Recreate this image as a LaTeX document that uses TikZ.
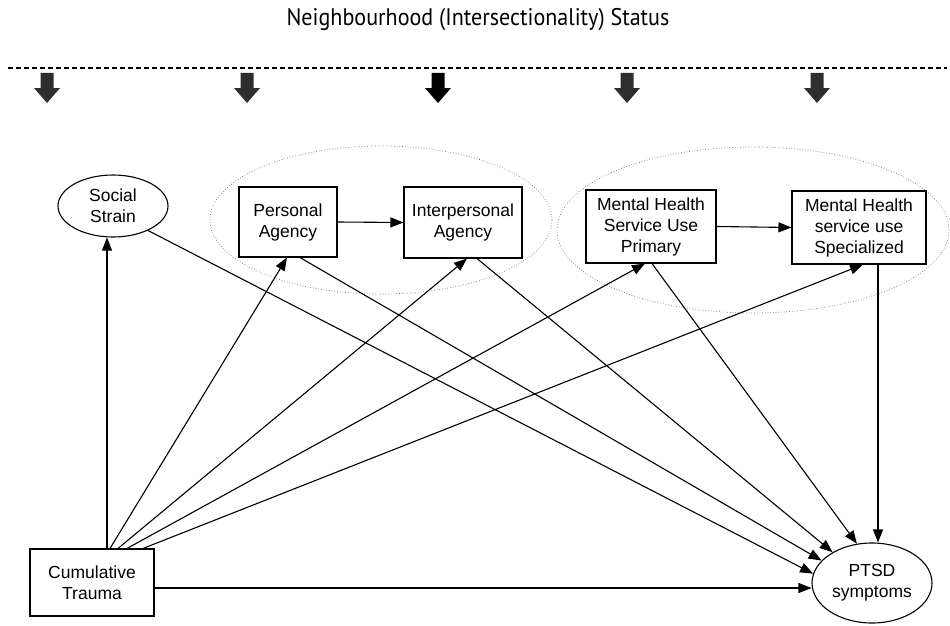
\documentclass[tikz,border=0pt]{standalone}
\usepackage{fontspec}
\setmainfont{Liberation Sans}
\newfontfamily\titlefont[FakeStretch=0.92]{PT Sans}
\usetikzlibrary{shapes.geometric,arrows.meta}

\tikzset{
  box/.style={draw, line width=1.1pt, align=center, inner sep=0pt,
    font=\fontsize{17.5}{21}\selectfont},
  oval/.style={draw, ellipse, line width=1.1pt, align=center, inner sep=0pt,
    font=\fontsize{17.5}{21}\selectfont},
  group/.style={draw=black!55, ellipse, dotted, line width=0.7pt, inner sep=0pt},
  arr/.style={line width=1.1pt, -{Triangle[length=13pt,width=10pt]}},
  level/.style={line width=1.6pt, dash pattern=on 5pt off 3pt}
}

\begin{document}
\begin{tikzpicture}[x=1pt,y=-1pt]
  \useasboundingbox (0,0) rectangle (950,626);

  % heading and the dashed level line with its down arrows
  \node[font=\titlefont\fontsize{24}{27}\selectfont] (title) at (478,20)
    {Neighbourhood (Intersectionality) Status};
  \coordinate (lineL) at (8,68);
  \coordinate (lineR) at (947,68);
  \draw[level] (lineL) -- (lineR);
  \foreach \ax/\shade in {47/82, 247/82, 438/100, 627/82, 817/82}{
    \fill[black!\shade] (\ax-6.5,73) -- (\ax+6.5,73) -- (\ax+6.5,88) -- (\ax+13,88)
      -- (\ax,103) -- (\ax-13,88) -- (\ax-6.5,88) -- cycle;
  }

  % grouping ellipses
  \node[group, minimum width=342, minimum height=148] (g1) at (381,220) {};
  \node[group, minimum width=392, minimum height=166] (g2) at (753,230) {};

  % variables
  \node[oval, minimum width=110, minimum height=62] (ss) at (113,206) {Social\\Strain};
  \node[box, minimum width=98, minimum height=70] (pa) at (288,222) {Personal\\Agency};
  \node[box, minimum width=118, minimum height=71] (ia) at (463,222.5) {Interpersonal\\Agency};
  \node[box, minimum width=130, minimum height=73] (mhp) at (651,226.5)
    {Mental Health\\Service Use\\Primary};
  \node[box, minimum width=134, minimum height=73] (mhs) at (859,227.5)
    {Mental Health\\service use\\Specialized};
  \node[box, minimum width=124, minimum height=67] (ct) at (92,582.5) {Cumulative\\Trauma};
  \node[oval, minimum width=120, minimum height=80] (ptsd) at (872,583) {PTSD\\symptoms};

  % paths out of cumulative trauma
  \draw[arr] ([xshift=15pt]ct.north) -- ([xshift=15pt]ct.north |- ss.south);
  \draw[arr] ([xshift=18pt]ct.north) -- ([xshift=-1pt]pa.south);
  \draw[arr] ([xshift=26pt]ct.north) -- ([xshift=4pt]ia.south);
  \draw[arr] ([xshift=35pt]ct.north) -- ([xshift=-6pt]mhp.south);
  \draw[arr] ([xshift=51pt]ct.north) -- ([xshift=4pt]mhs.south);
  \draw[arr] ([yshift=-5.5pt]ct.east) -- ([yshift=-5.5pt]ct.east -| ptsd.west);

  % links between mediators
  \draw[arr] (pa.east) -- (ia.west);
  \draw[arr] (mhp.east) -- (mhs.west);

  % paths into PTSD symptoms
  \draw[arr] (ss.-35) -- (ptsd.171);
  \draw[arr] ([xshift=12pt]pa.south) -- (ptsd.156);
  \draw[arr] ([xshift=14pt]ia.south) -- (ptsd.142);
  \draw[arr] ([xshift=1pt]mhp.south) -- (ptsd.111);
  \draw[arr] ([xshift=19pt]mhs.south) -- ([xshift=19pt]mhs.south |- ptsd.north);
\end{tikzpicture}
\end{document}
